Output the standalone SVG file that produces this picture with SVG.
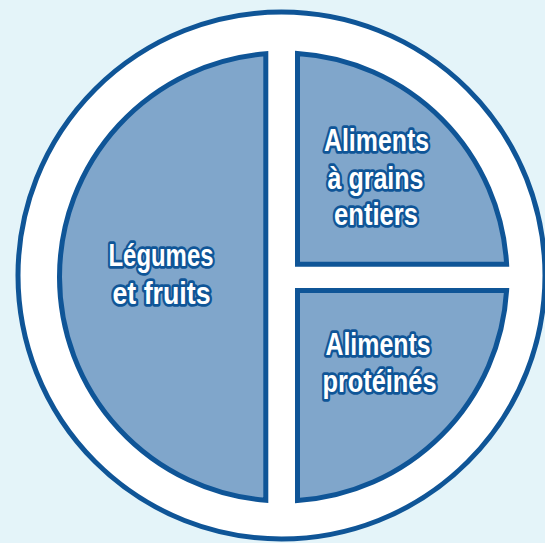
<svg xmlns="http://www.w3.org/2000/svg" width="545" height="543" viewBox="0 0 545 543">
  <style>
    .seg { fill: #80a6cb; stroke: #0f5597; stroke-width: 5; stroke-linejoin: miter; }
    .lbl { font-family: "Liberation Sans", Arial, sans-serif; font-weight: bold; font-size: 31px; fill: #ffffff; stroke: #0f5597; stroke-width: 5.5; stroke-linejoin: round; paint-order: stroke; text-anchor: middle; }
  </style>
  <rect x="0" y="0" width="545" height="543" fill="#e4f4f9"/>
  <g id="plate">
    <circle cx="281.5" cy="275.5" r="263.5" fill="#ffffff" stroke="#0f5597" stroke-width="5"/>
  </g>
  <g id="legumes-fruits">
    <path class="seg" d="M265.8,53.7 A224,224 0 0 0 265.8,500.3 Z"/>
    <text class="lbl" x="161" y="265.5" textLength="105" lengthAdjust="spacingAndGlyphs">Légumes</text>
    <text class="lbl" x="161.5" y="304" textLength="98" lengthAdjust="spacingAndGlyphs">et fruits</text>
  </g>
  <g id="grains-entiers">
    <path class="seg" d="M297.5,264.2 L297.5,53.5 A224,224 0 0 1 506.6,264.2 Z"/>
    <text class="lbl" x="376.5" y="150.5" textLength="105" lengthAdjust="spacingAndGlyphs">Aliments</text>
    <text class="lbl" x="375.5" y="188.5" textLength="96" lengthAdjust="spacingAndGlyphs">à grains</text>
    <text class="lbl" x="376" y="225" textLength="84" lengthAdjust="spacingAndGlyphs">entiers</text>
  </g>
  <g id="proteines">
    <path class="seg" d="M297.5,290.5 L506.6,290.5 A224,224 0 0 1 297.5,500.5 Z"/>
    <text class="lbl" x="378" y="354.5" textLength="105" lengthAdjust="spacingAndGlyphs">Aliments</text>
    <text class="lbl" x="379.5" y="392" textLength="114" lengthAdjust="spacingAndGlyphs">protéinés</text>
  </g>
  <g id="connectors"/>
</svg>
